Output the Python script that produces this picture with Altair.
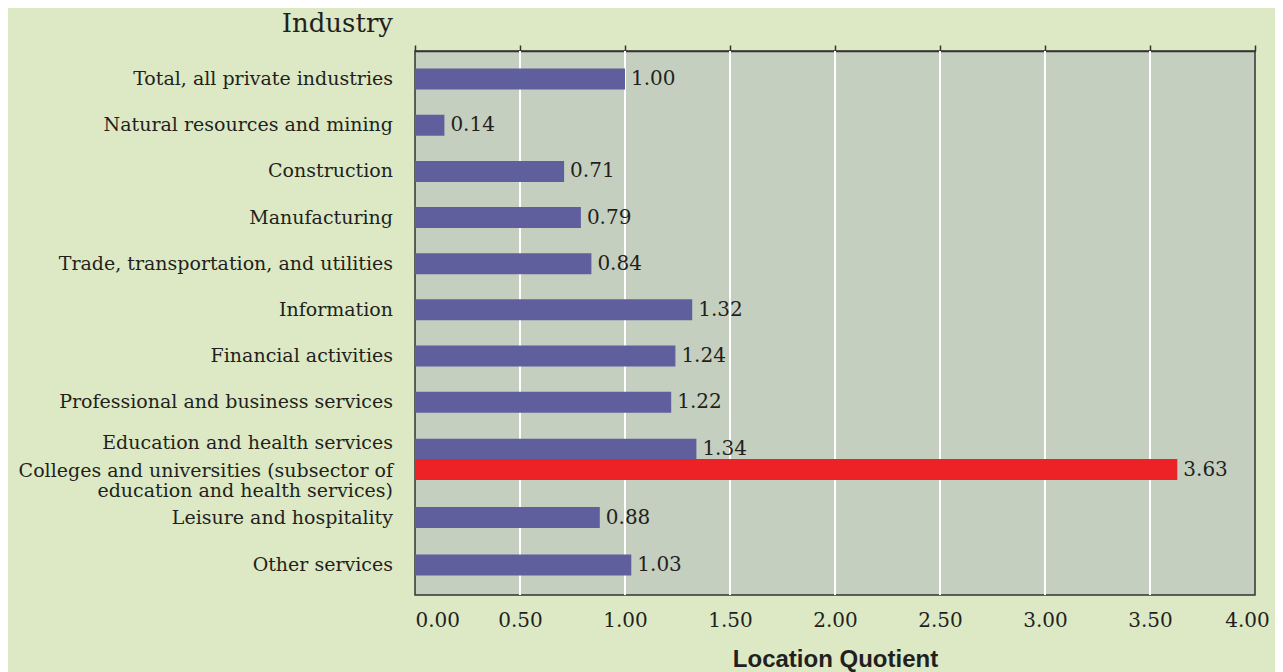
import altair as alt
import pandas as pd

# ---- data ----
industries = [
    "Total, all private industries",
    "Natural resources and mining",
    "Construction",
    "Manufacturing",
    "Trade, transportation, and utilities",
    "Information",
    "Financial activities",
    "Professional and business services",
    "Education and health services",
    "Colleges and universities (subsector of education and health services)",
    "Leisure and hospitality",
    "Other services",
]
quotients = [1.00, 0.14, 0.71, 0.79, 0.84, 1.32, 1.24, 1.22, 1.34, 3.63, 0.88, 1.03]
kinds = ["sector"] * 9 + ["subsector"] + ["sector"] * 2
# row slot of each bar (rows counted from the top; the subsector shares the education row)
row_pos = [0.5, 1.5, 2.5, 3.5, 4.5, 5.5, 6.5, 7.5, 8.52, 8.96, 10.0, 11.03]
row_edges = [0, 1, 2, 3, 4, 5, 6, 7, 8, 9.47, 10.49, 11.57]

label_lines = [
    "Total, all private industries",
    "Natural resources and mining",
    "Construction",
    "Manufacturing",
    "Trade, transportation, and utilities",
    "Information",
    "Financial activities",
    "Professional and business services",
    "Education and health services",
    "Colleges and universities (subsector of",
    "education and health services)",
    "Leisure and hospitality",
    "Other services",
]
label_pos = [0.5, 1.5, 2.5, 3.5, 4.5, 5.5, 6.5, 7.5, 8.38, 9.0, 9.43, 10.0, 11.03]

x_ticks = [0, 0.5, 1.0, 1.5, 2.0, 2.5, 3.0, 3.5, 4.0]
grid_vals = [0.5, 1.0, 1.5, 2.0, 2.5, 3.0, 3.5]

bars_df = pd.DataFrame({"industry": industries, "lq": quotients, "kind": kinds, "pos": row_pos})
labels_df = pd.DataFrame({"line": label_lines, "pos": label_pos})
grid_df = pd.DataFrame({"g": grid_vals})
title_df = pd.DataFrame({"t": ["Industry"]})

SERIF = "DejaVu Serif"
INK = "#231f20"
AXIS = "#333333"

xscale = alt.Scale(domain=[0, 4], nice=False, zero=True)
yscale = alt.Scale(domain=[0, 11.57], reverse=True, nice=False, zero=False)

grid = alt.Chart(grid_df).mark_rule(color="white", strokeWidth=2).encode(
    x=alt.X(
        "g:Q",
        scale=xscale,
        axis=alt.Axis(
            orient="bottom",
            values=x_ticks,
            format=".2f",
            ticks=False,
            domain=False,
            grid=False,
            labelFont=SERIF,
            labelFontSize=20,
            labelColor=INK,
            labelPadding=15,
            labelFlush=False,
            labelAlign={"condition": {"test": "datum.value == 0", "value": "left"}, "value": "center"},
            labelOffset={"condition": {"test": "datum.value == 4", "value": -8}, "value": 0},
            title="Location Quotient",
            titleFont="Liberation Sans",
            titleFontWeight="bold",
            titleFontSize=24,
            titleColor=INK,
            titlePadding=17,
        ),
    )
)

bars = alt.Chart(bars_df).mark_bar(size=21, orient="horizontal").encode(
    x=alt.X(
        "lq:Q",
        scale=xscale,
        axis=alt.Axis(
            orient="top",
            values=x_ticks,
            labels=False,
            ticks=True,
            tickSize=6,
            tickColor=AXIS,
            tickWidth=1.5,
            domain=True,
            domainColor=AXIS,
            domainWidth=1.5,
            grid=False,
            title=None,
        ),
    ),
    y=alt.Y(
        "pos:Q",
        scale=yscale,
        axis=alt.Axis(
            orient="left",
            values=row_edges,
            labels=False,
            ticks=True,
            tickSize=6,
            tickColor=AXIS,
            tickWidth=1.5,
            domain=True,
            domainColor=AXIS,
            domainWidth=1.5,
            grid=False,
            title=None,
        ),
    ),
    color=alt.Color(
        "kind:N",
        scale=alt.Scale(domain=["sector", "subsector"], range=["#5f5f9d", "#ec2227"]),
        legend=None,
    ),
)

values = alt.Chart(bars_df).mark_text(
    align="left", baseline="middle", dx=6, font=SERIF, fontSize=20, color=INK
).encode(
    x=alt.X("lq:Q", scale=xscale, axis=None),
    y=alt.Y("pos:Q", scale=yscale, axis=None),
    text=alt.Text("lq:Q", format=".2f"),
)

labels = alt.Chart(labels_df).mark_text(
    align="right", baseline="middle", font=SERIF, fontSize=19, color=INK
).encode(
    x=alt.value(-22),
    y=alt.Y("pos:Q", scale=yscale, axis=None),
    text="line:N",
)

title = alt.Chart(title_df).mark_text(
    align="right", baseline="middle", font=SERIF, fontSize=26, color=INK
).encode(
    x=alt.value(-22),
    y=alt.value(-27),
    text="t:N",
)

chart = (
    alt.layer(grid, bars, values, labels, title)
    .resolve_axis(x="independent")
    .properties(
        width=840,
        height=544,
        background="#dce9c4",
        padding={"left": 407, "top": 43, "right": 20, "bottom": 82},
        autosize=alt.AutoSizeParams(type="none"),
    )
    .configure_view(fill="#c5cfbf", stroke=AXIS, strokeWidth=1.5)
)

chart.save("out.html", embed_options={"renderer": "svg", "actions": False})
